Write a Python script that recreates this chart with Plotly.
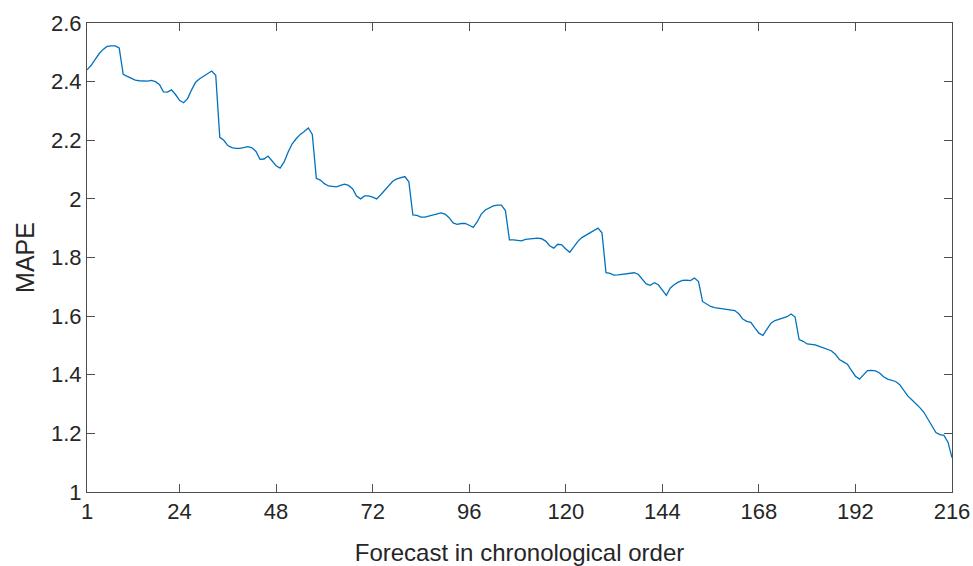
import plotly.graph_objects as go

forecast_index = list(range(1, 217))

mape = [
    2.440, 2.455, 2.475, 2.495, 2.510, 2.520, 2.522, 2.522, 2.515, 2.425,
    2.418, 2.410, 2.405, 2.403, 2.402, 2.402, 2.404, 2.400, 2.390, 2.365,
    2.364, 2.372, 2.356, 2.336, 2.328, 2.342, 2.372, 2.398, 2.410, 2.418,
    2.426, 2.436, 2.422, 2.210, 2.200, 2.182, 2.175, 2.172, 2.172, 2.174,
    2.178, 2.174, 2.162, 2.135, 2.136, 2.146, 2.130, 2.113, 2.105, 2.126,
    2.160, 2.188, 2.205, 2.220, 2.230, 2.242, 2.220, 2.070, 2.064, 2.052,
    2.044, 2.042, 2.041, 2.046, 2.050, 2.046, 2.035, 2.010, 2.000, 2.010,
    2.010, 2.006, 2.000, 2.014, 2.030, 2.045, 2.060, 2.068, 2.072, 2.076,
    2.058, 1.945, 1.944, 1.938, 1.938, 1.941, 1.944, 1.948, 1.952, 1.948,
    1.936, 1.918, 1.913, 1.916, 1.916, 1.910, 1.903, 1.922, 1.948, 1.962,
    1.969, 1.976, 1.979, 1.979, 1.960, 1.860, 1.860, 1.858, 1.857, 1.862,
    1.864, 1.865, 1.866, 1.864, 1.856, 1.840, 1.832, 1.845, 1.843, 1.829,
    1.818, 1.836, 1.855, 1.868, 1.876, 1.883, 1.892, 1.900, 1.884, 1.748,
    1.746, 1.740, 1.741, 1.743, 1.746, 1.748, 1.748, 1.743, 1.728, 1.710,
    1.705, 1.714, 1.707, 1.690, 1.671, 1.696, 1.708, 1.716, 1.722, 1.723,
    1.721, 1.730, 1.718, 1.650, 1.641, 1.633, 1.629, 1.627, 1.624, 1.622,
    1.621, 1.619, 1.608, 1.590, 1.582, 1.579, 1.560, 1.542, 1.534, 1.557,
    1.576, 1.585, 1.590, 1.594, 1.598, 1.607, 1.597, 1.520, 1.514, 1.505,
    1.503, 1.502, 1.497, 1.492, 1.487, 1.482, 1.470, 1.452, 1.444, 1.436,
    1.415, 1.395, 1.385, 1.400, 1.414, 1.415, 1.413, 1.406, 1.393, 1.385,
    1.382, 1.377, 1.366, 1.347, 1.328, 1.315, 1.302, 1.288, 1.272, 1.250,
    1.225, 1.203, 1.196, 1.193, 1.170, 1.117,
]

x_tick_vals = [1, 24, 48, 72, 96, 120, 144, 168, 192, 216]
x_tick_text = ["1", "24", "48", "72", "96", "120", "144", "168", "192", "216"]
y_tick_vals = [1.0, 1.2, 1.4, 1.6, 1.8, 2.0, 2.2, 2.4, 2.6]
y_tick_text = ["1", "1.2", "1.4", "1.6", "1.8", "2", "2.2", "2.4", "2.6"]

axis_color = "#4d4d4d"
font_family = "Liberation Sans, Arial, sans-serif"

fig = go.Figure()
fig.add_trace(go.Scatter(
    x=forecast_index, y=mape, mode="lines",
    line=dict(color="#0072BD", width=1.3),
    showlegend=False,
))

fig.update_layout(
    width=973, height=566,
    margin=dict(l=87, r=21, t=23, b=74),
    paper_bgcolor="white", plot_bgcolor="white",
    font=dict(family=font_family, color="#262626", size=22),
)

fig.update_xaxes(
    range=[1, 216], tickvals=x_tick_vals, ticktext=x_tick_text,
    automargin=False,
    showgrid=False, zeroline=False,
    showline=True, linecolor=axis_color, linewidth=1, mirror="ticks",
    ticks="inside", ticklen=8, tickcolor=axis_color, tickwidth=1,
    tickfont=dict(size=22, color="#262626"),
    title=dict(text="Forecast in chronological order",
               font=dict(size=24, color="#262626"), standoff=20),
)
fig.update_yaxes(
    range=[1, 2.6], tickvals=y_tick_vals, ticktext=y_tick_text,
    automargin=False,
    showgrid=False, zeroline=False,
    showline=True, linecolor=axis_color, linewidth=1, mirror="ticks",
    ticks="inside", ticklen=8, tickcolor=axis_color, tickwidth=1,
    tickfont=dict(size=22, color="#262626"),
    title=dict(text="MAPE", font=dict(size=25, color="#262626"), standoff=9),
)

fig.write_html(
    "out.html",
    config={"displayModeBar": False},
    post_script="document.body.style.margin='0';document.body.style.overflow='hidden';",
)
